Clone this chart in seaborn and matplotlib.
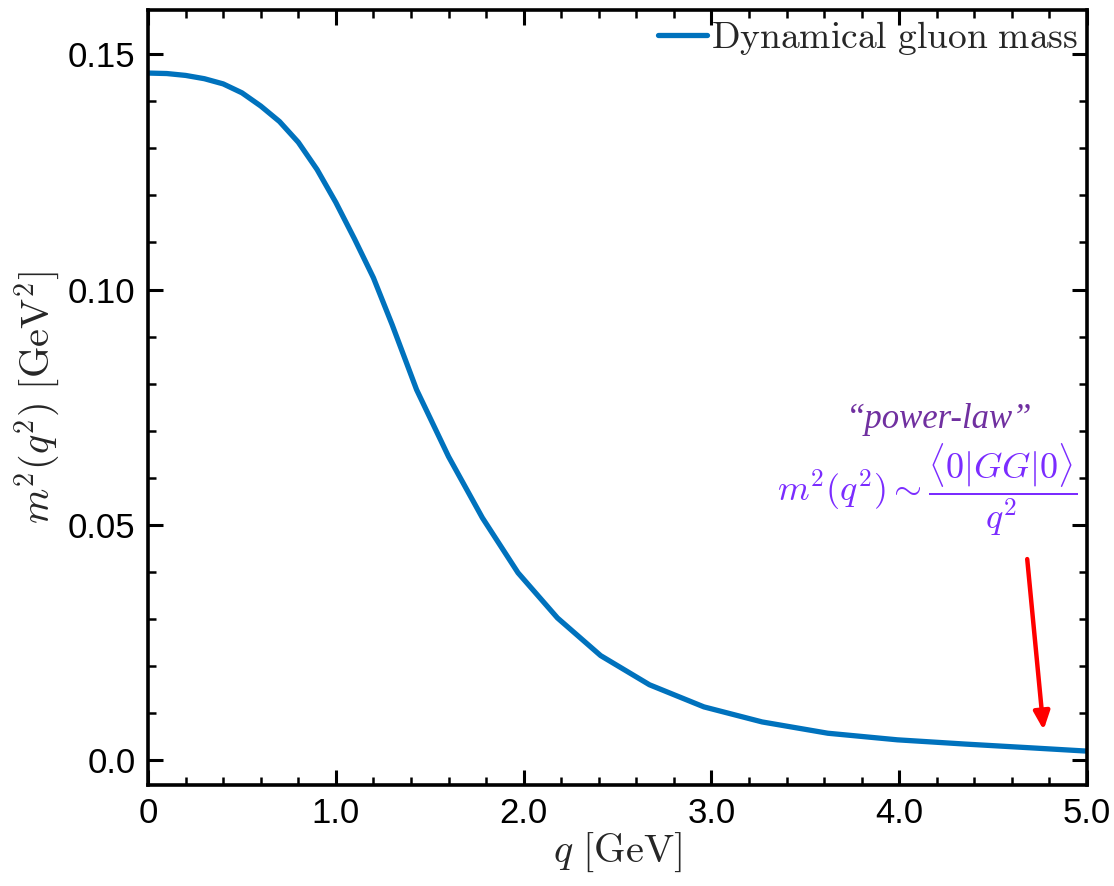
import numpy as np
import pandas as pd
import matplotlib
matplotlib.use("Agg")
import matplotlib.pyplot as plt
from matplotlib.ticker import MultipleLocator
import seaborn as sns

# ── data ────────────────────────────────────────────────────
q_gev = [0, 0.1, 0.2, 0.3, 0.4, 0.5, 0.6, 0.7, 0.8, 0.9, 1.0, 1.1, 1.2,
         1.3, 1.43, 1.6, 1.78, 1.97, 2.18, 2.41, 2.67, 2.96, 3.27, 3.62,
         3.99, 4.35, 4.7, 5.0]
m2_gev2 = [0.1460, 0.1459, 0.1455, 0.1448, 0.1437, 0.1418, 0.1390, 0.1357,
           0.1313, 0.1255, 0.1185, 0.1107, 0.1025, 0.0925, 0.0787, 0.0645,
           0.0515, 0.0398, 0.0302, 0.0222, 0.0160, 0.0113, 0.0081, 0.0057,
           0.0043, 0.0034, 0.0026, 0.0019]

x_ticks = [0, 1, 2, 3, 4, 5]
x_ticklabels = ["0", "1.0", "2.0", "3.0", "4.0", "5.0"]
y_ticks = [0.0, 0.05, 0.10, 0.15]
y_ticklabels = ["0.0", "0.05", "0.10", "0.15"]

df = pd.DataFrame({"q": q_gev, "m2": m2_gev2})

# ── style ───────────────────────────────────────────────────
sns.set_theme(style="ticks")
plt.rcParams["font.family"] = ["Liberation Sans", "DejaVu Sans"]
plt.rcParams["mathtext.fontset"] = "cm"

fig = plt.figure(figsize=(11.14, 8.86), dpi=100)
ax = fig.add_axes([0.1329, 0.114, 0.8429, 0.8747])

sns.lineplot(data=df, x="q", y="m2", color="#0072BD", linewidth=3.8,
             label=r"$\mathrm{Dynamical\ gluon\ mass}$", ax=ax)

ax.set_xlim(0, 5)
ax.set_ylim(-0.0053, 0.1594)
ax.set_xticks(x_ticks)
ax.set_xticklabels(x_ticklabels)
ax.set_yticks(y_ticks)
ax.set_yticklabels(y_ticklabels)
ax.xaxis.set_minor_locator(MultipleLocator(0.2))
ax.yaxis.set_minor_locator(MultipleLocator(0.01))

ax.tick_params(which="both", direction="in", top=True, right=True,
               labelsize=25, color="black", labelcolor="black")
ax.tick_params(which="major", length=11, width=2.2, pad=9)
ax.tick_params(which="minor", length=6, width=1.8)
for s in ax.spines.values():
    s.set_linewidth(2.6)
    s.set_color("black")

ax.set_xlabel(r"$q\ [\mathrm{GeV}]$", fontsize=29, labelpad=0)
ax.set_ylabel(r"$m^2(q^2)\ [\mathrm{GeV}^2]$", fontsize=29, labelpad=4)

leg = ax.legend(loc="upper right", frameon=False, fontsize=27,
                handlelength=1.3, handletextpad=0.1,
                borderaxespad=0.05, borderpad=0.2)

# annotation
ax.text(4.21, 0.0724, "\u201cpower-law\u201d", fontsize=25, style="italic",
        family=["Liberation Serif", "DejaVu Serif"], color="#7030A0",
        ha="center", va="center")
ax.text(4.15, 0.0574,
        r"$m^2(q^2) \sim \dfrac{\langle 0|GG|0\rangle}{q^2}$",
        fontsize=26, color="#7B2CFF", ha="center", va="center")
ax.annotate("", xy=(4.77, 0.0058), xytext=(4.68, 0.0433),
            arrowprops=dict(arrowstyle="-|>,head_length=0.9,head_width=0.4",
                            color="#FF0000", lw=3.2))

plt.savefig("out.png", dpi=100)
plt.close()
